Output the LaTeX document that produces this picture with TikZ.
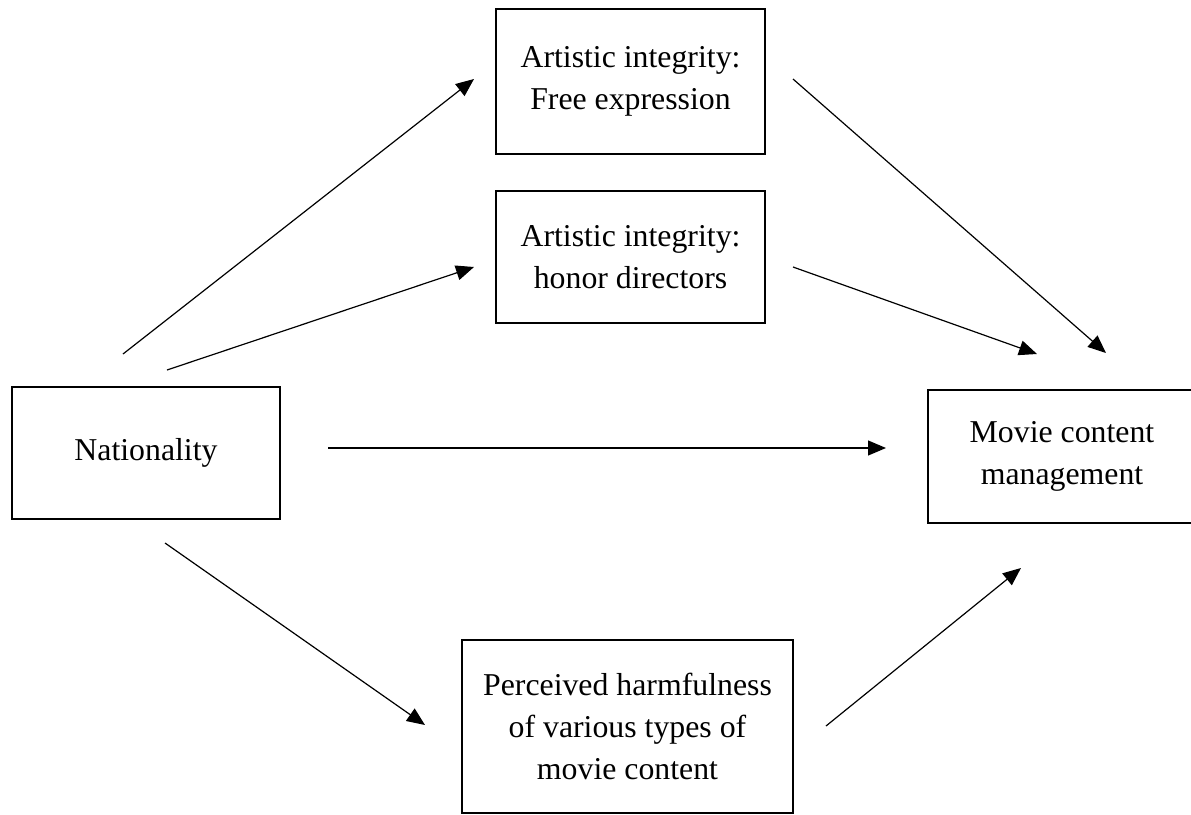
\documentclass[tikz,border=0pt]{standalone}
\usepackage{fontspec}
\setmainfont{Liberation Serif}
\usetikzlibrary{arrows.meta}

\begin{document}
\begin{tikzpicture}[
  x=0.5pt, y=-0.5pt,
  box/.style={draw, line width=1.4pt, align=center, inner sep=0pt, font=\fontsize{15.9pt}{21pt}\selectfont},
  link/.style={-{Triangle[length=9pt, width=7.5pt]}, line width=0.6pt}]
  \useasboundingbox (0,0) rectangle (1191,815);
  \node[box, minimum width=134.5pt, minimum height=72.5pt] (free) at (630.5,81.5) {Artistic integrity:\\Free expression};
  \node[box, minimum width=134.5pt, minimum height=66pt] (honor) at (630.5,257) {Artistic integrity:\\honor directors};
  \node[box, minimum width=134pt, minimum height=66pt] (nation) at (146,453) {Nationality};
  \node[box, minimum width=134pt, minimum height=66.5pt] (movie) at (1062,456.5) {Movie content\\management};
  \node[box, minimum width=165.5pt, minimum height=86.5pt] (harm) at (627.5,726.5) {Perceived harmfulness\\of various types of\\movie content};
  % free ends of the arrows
  \coordinate (nation-a) at (123,354);
  \coordinate (nation-b) at (167,370);
  \coordinate (nation-c) at (328,448);
  \coordinate (nation-d) at (165,543);
  \coordinate (free-in) at (474,79);
  \coordinate (free-out) at (793,79);
  \coordinate (honor-in) at (474,267);
  \coordinate (honor-out) at (793,267);
  \coordinate (harm-in) at (425,725);
  \coordinate (harm-out) at (826,726);
  \coordinate (movie-a) at (1106,353);
  \coordinate (movie-b) at (1037,354);
  \coordinate (movie-c) at (886,448);
  \coordinate (movie-d) at (1021,568);
  \draw[link] (nation-a) -- (free-in);
  \draw[link] (nation-b) -- (honor-in);
  \draw[link] (nation-c) -- (movie-c);
  \draw[link] (nation-d) -- (harm-in);
  \draw[link] (free-out) -- (movie-a);
  \draw[link] (honor-out) -- (movie-b);
  \draw[link] (harm-out) -- (movie-d);
\end{tikzpicture}
\end{document}
